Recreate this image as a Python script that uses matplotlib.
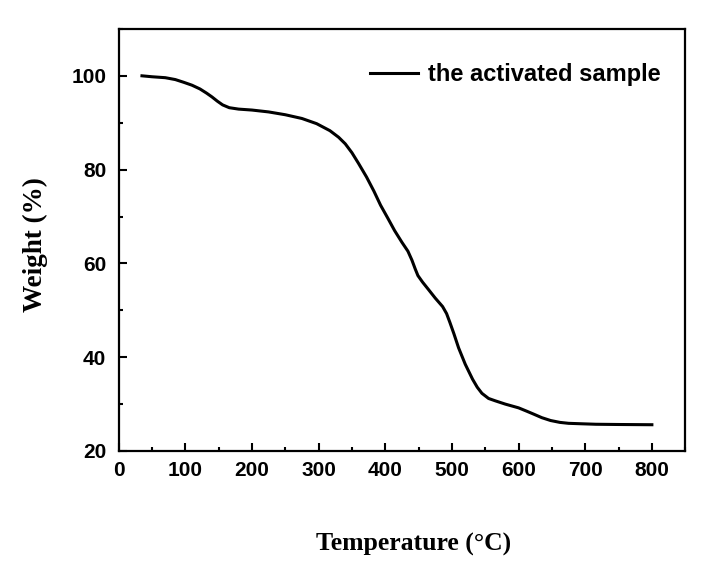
import matplotlib
matplotlib.use("Agg")
import matplotlib.pyplot as plt
from matplotlib.ticker import MultipleLocator

# TGA curve
temperature = [35, 50, 70, 85, 98, 110, 122, 132, 140, 148, 156, 166, 180, 200,
               225, 250, 275, 297, 317, 330, 340, 350, 360, 372, 383, 393, 404,
               414, 425, 434, 440, 445, 449, 456, 465, 475, 486, 492, 497, 503,
               510, 520, 531, 538, 545, 555, 565, 580, 600, 612, 622, 635, 648,
               662, 675, 695, 716, 750, 800]
weight = [100.0, 99.8, 99.6, 99.2, 98.6, 98.0, 97.2, 96.3, 95.5, 94.6, 93.8,
          93.2, 92.9, 92.7, 92.3, 91.7, 90.9, 89.8, 88.3, 86.9, 85.5, 83.6,
          81.3, 78.4, 75.4, 72.4, 69.6, 67.0, 64.5, 62.6, 60.7, 58.8, 57.4,
          56.0, 54.4, 52.6, 50.8, 49.3, 47.4, 45.0, 42.0, 38.5, 35.3, 33.6,
          32.3, 31.2, 30.7, 30.0, 29.2, 28.5, 27.9, 27.1, 26.5, 26.1, 25.9,
          25.8, 25.7, 25.65, 25.6]

label = "the activated sample"

fig = plt.figure(figsize=(7.19, 5.67), dpi=100)
ax = fig.add_axes([0.165, 0.2046, 0.788, 0.7444])

ax.plot(temperature, weight, color="black", lw=2.2, label=label)

ax.set_xlim(0, 850)
ax.set_ylim(20, 110)
ax.xaxis.set_major_locator(MultipleLocator(100))
ax.xaxis.set_minor_locator(MultipleLocator(50))
ax.yaxis.set_major_locator(MultipleLocator(20))
ax.yaxis.set_minor_locator(MultipleLocator(10))
ax.set_xticks(range(0, 801, 100))
ax.tick_params(which="both", direction="in", width=1.5, top=False, right=False)
ax.tick_params(which="major", length=6)
ax.tick_params(which="minor", length=3)
ax.tick_params(axis="x", which="major", pad=7)
ax.tick_params(axis="y", which="major", pad=9)
for s in ax.spines.values():
    s.set_linewidth(1.6)

for t in ax.get_xticklabels() + ax.get_yticklabels():
    t.set_fontfamily("Liberation Sans")
    t.set_fontweight("bold")
    t.set_fontsize(15)

ax.set_xlabel("Temperature (°C)", fontfamily="Liberation Serif",
              fontweight="bold", fontsize=18.5)
ax.set_ylabel("Weight (%)", fontfamily="Liberation Serif",
              fontweight="bold", fontsize=19.5)
ax.xaxis.set_label_coords(0.52, -0.195)
ax.yaxis.set_label_coords(-0.124, 0.489)

ax.legend(loc="center right", bbox_to_anchor=(0.978, 0.891), frameon=False,
          borderpad=0, handlelength=2.0, handletextpad=0.45,
          prop={"family": "Liberation Sans", "weight": "bold", "size": 17})

fig.savefig("out.png", dpi=100)
